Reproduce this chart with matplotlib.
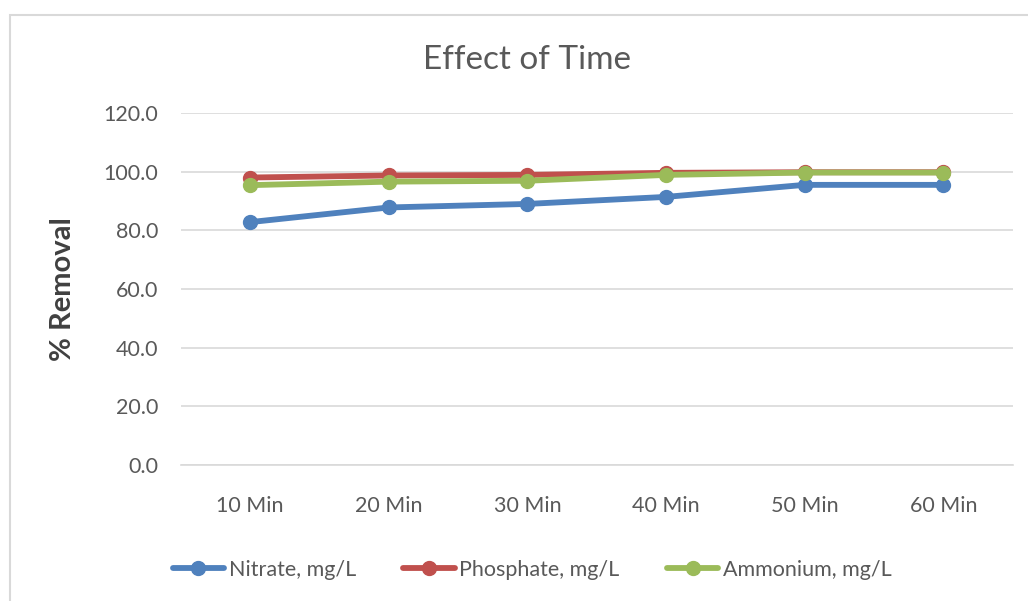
import matplotlib.pyplot as plt
from matplotlib.patches import Rectangle

# data
categories = ['10 Min', '20 Min', '30 Min', '40 Min', '50 Min', '60 Min']
nitrate = [82.8, 87.8, 89.0, 91.4, 95.5, 95.5]
phosphate = [98.0, 98.7, 98.9, 99.6, 99.8, 99.8]
ammonium = [95.4, 96.6, 96.9, 98.9, 99.7, 99.7]
y_ticks = [0, 20, 40, 60, 80, 100, 120]

plt.rcParams['font.family'] = ['Lato', 'DejaVu Sans']

fig = plt.figure(figsize=(10.28, 6.01), dpi=100)
W, H = 1028, 601

# outer chart border
fig.patches.append(Rectangle((10 / W, 1 - 1200 / H), 1200 / W, 1185 / H,
                             transform=fig.transFigure, fill=False,
                             edgecolor='#d9d9d9', linewidth=1.5))

ax = fig.add_axes([180.7 / W, 1 - 465 / H, (1012.6 - 180.7) / W, (465 - 113) / H])

x = range(len(categories))
series = [
    (nitrate, 'Nitrate, mg/L', '#4f81bd'),
    (phosphate, 'Phosphate, mg/L', '#c0504d'),
    (ammonium, 'Ammonium, mg/L', '#9bbb59'),
]
for vals, label, color in series:
    ax.plot(x, vals, '-o', color=color, lw=4.2, markersize=10, label=label,
            solid_capstyle='round')

ax.set_xlim(-0.5, len(categories) - 0.5)
ax.set_ylim(0, 120)
ax.set_yticks(y_ticks)
ax.set_yticklabels([f'{v:.1f}' for v in y_ticks])
ax.set_xticks(list(x))
ax.set_xticklabels(categories)
ax.tick_params(axis='both', length=0, labelsize=15.5, colors='#595959')
ax.tick_params(axis='x', pad=22)
ax.tick_params(axis='y', pad=16)
ax.grid(axis='y', color='#d9d9d9', lw=1.2)
ax.set_axisbelow(True)
for s in ['top', 'right', 'left']:
    ax.spines[s].set_visible(False)
ax.spines['bottom'].set_color('#d9d9d9')
ax.spines['bottom'].set_linewidth(1.2)

ax.set_ylabel('% Removal', fontsize=21, fontweight='bold', color='#404040',
              labelpad=20)

fig.text(527 / W, 1 - 60 / H, 'Effect of Time', fontsize=24, color='#595959',
         ha='center', va='center')

fig.legend(loc='center', bbox_to_anchor=(532 / W, 1 - 570 / H), ncol=3,
           frameon=False, fontsize=15.5, labelcolor='#595959',
           handlelength=2.4, columnspacing=2.2, handletextpad=0.2)

fig.savefig('out.png', dpi=100, facecolor='white')
